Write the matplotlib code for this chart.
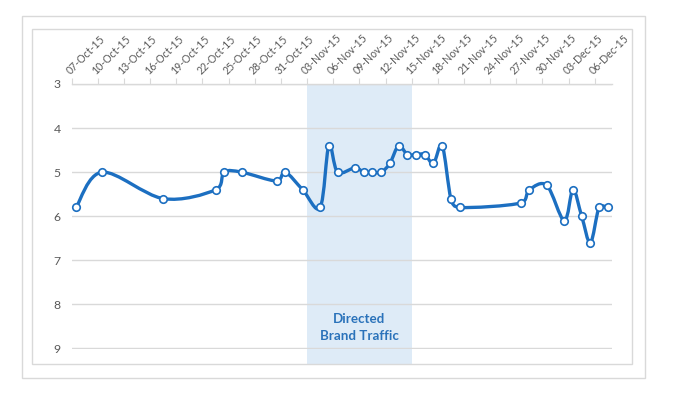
import matplotlib
matplotlib.use("Agg")
import matplotlib.pyplot as plt
import matplotlib.dates as mdates
from matplotlib.path import Path
from matplotlib.patches import PathPatch, Rectangle
from matplotlib.transforms import blended_transform_factory
import numpy as np
import datetime as dt

plt.rcParams['font.family'] = ['Lato', 'DejaVu Sans']

# ---- data ----
dates = ["2015-10-07", "2015-10-10", "2015-10-17", "2015-10-23", "2015-10-24",
         "2015-10-26", "2015-10-30", "2015-10-31", "2015-11-02", "2015-11-04",
         "2015-11-05", "2015-11-06", "2015-11-08", "2015-11-09", "2015-11-10",
         "2015-11-11", "2015-11-12", "2015-11-13", "2015-11-14", "2015-11-15",
         "2015-11-16", "2015-11-17", "2015-11-18", "2015-11-19", "2015-11-20",
         "2015-11-27", "2015-11-28", "2015-11-30", "2015-12-02", "2015-12-03",
         "2015-12-04", "2015-12-05", "2015-12-06", "2015-12-07"]
values = [5.8, 5.0, 5.6, 5.4, 5.0,
          5.0, 5.2, 5.0, 5.4, 5.8,
          4.4, 5.0, 4.9, 5.0, 5.0,
          5.0, 4.8, 4.4, 4.6, 4.6,
          4.6, 4.8, 4.4, 5.6, 5.8,
          5.7, 5.4, 5.3, 6.1, 5.4,
          6.0, 6.6, 5.8, 5.8]
tick_dates = ["2015-10-07", "2015-10-10", "2015-10-13", "2015-10-16", "2015-10-19",
              "2015-10-22", "2015-10-25", "2015-10-28", "2015-10-31", "2015-11-03",
              "2015-11-06", "2015-11-09", "2015-11-12", "2015-11-15", "2015-11-18",
              "2015-11-21", "2015-11-24", "2015-11-27", "2015-11-30", "2015-12-03",
              "2015-12-06"]
y_ticks = [3, 4, 5, 6, 7, 8, 9]
shade_start, shade_end = "2015-11-03", "2015-11-15"
annotation = "Directed\nBrand Traffic"

LINE = "#1c6fc1"
GRID = "#d9d9d9"
TXT = "#595959"

def d2n(s):
    return mdates.date2num(dt.datetime.strptime(s, "%Y-%m-%d"))

x = np.array([d2n(s) + 0.5 for s in dates])   # centre of each day
y = np.array(values)

W, H = 677, 394
fig = plt.figure(figsize=(W / 100, H / 100), dpi=100)
ax = fig.add_axes([71.7 / W, 1 - 348.5 / H, (612.2 - 71.7) / W, (348.5 - 84) / H])

ax.set_xlim(d2n("2015-10-07"), d2n("2015-12-08"))
ax.set_ylim(9, 3)

# borders
for (l, t, r, b) in [(22, 16, 645, 378), (31.7, 29, 632, 364)]:
    fig.patches.append(Rectangle((l / W, 1 - b / H), (r - l) / W, (b - t) / H,
                                 transform=fig.transFigure, fill=False,
                                 edgecolor=GRID, lw=1.0))

# shaded region
trans = blended_transform_factory(ax.transData, fig.transFigure)
xs0, xs1 = d2n(shade_start), d2n(shade_end)
ax.add_patch(Rectangle((xs0, 1 - 364 / H), xs1 - xs0, (364 - 84) / H,
                       transform=trans, facecolor="#deebf7", edgecolor="none",
                       zorder=0, clip_on=False))

# grid
ax.set_yticks(y_ticks)
ax.yaxis.grid(True, color=GRID, lw=1.0)
ax.set_axisbelow(True)
for s in ["left", "right", "bottom"]:
    ax.spines[s].set_visible(False)
ax.spines["top"].set_color(GRID)
ax.spines["top"].set_linewidth(1.0)
ax.tick_params(axis="y", length=0, labelsize=8.8, labelcolor=TXT, pad=8)

ax.xaxis.tick_top()
ax.set_xticks([d2n(s) for s in tick_dates])
ax.set_xticklabels([dt.datetime.strptime(s, "%Y-%m-%d").strftime("%d-%b-%y") for s in tick_dates])
ax.tick_params(axis="x", length=4, color=GRID, labelsize=7.6, labelcolor=TXT, pad=1.5)
for lab in ax.get_xticklabels():
    lab.set_rotation(45)
    lab.set_ha("left")
    lab.set_va("bottom")
    lab.set_rotation_mode("anchor")

# Excel-like smoothed line (Bezier through the data points)
fig.canvas.draw()
P = ax.transData.transform(np.column_stack([x, y]))
n = len(P)
verts = [P[0]]
codes = [Path.MOVETO]
for i in range(n - 1):
    p0 = P[i - 1] if i > 0 else P[i]
    p1 = P[i]
    p2 = P[i + 1]
    p3 = P[i + 2] if i + 2 < n else P[i + 1]
    d12 = np.hypot(*(p2 - p1))
    d02 = np.hypot(*(p2 - p0))
    d13 = np.hypot(*(p3 - p1))
    f1 = 1 / 6
    f2 = 1 / 6
    if d02 / 6 > d12 / 2 and d02 > 0:
        f1 = d12 / (2 * d02)
    if d13 / 6 > d12 / 2 and d13 > 0:
        f2 = d12 / (2 * d13)
    c1 = p1 + (p2 - p0) * f1
    c2 = p2 - (p3 - p1) * f2
    verts += [c1, c2, p2]
    codes += [Path.CURVE4] * 3
verts = ax.transData.inverted().transform(np.array(verts))
ax.add_patch(PathPatch(Path(verts, codes), facecolor="none", edgecolor=LINE,
                       lw=2.4, capstyle="round", joinstyle="round", zorder=3))
ax.plot(x, y, ls="none", marker="o", ms=5.4, mfc="white", mec=LINE, mew=1.2,
        zorder=4, clip_on=False)

ax.text((xs0 + xs1) / 2, 8.53, annotation, ha="center", va="center",
        fontsize=9.6, fontweight="bold", color="#2a72ba", linespacing=1.5)

fig.savefig("out.png", dpi=100)
